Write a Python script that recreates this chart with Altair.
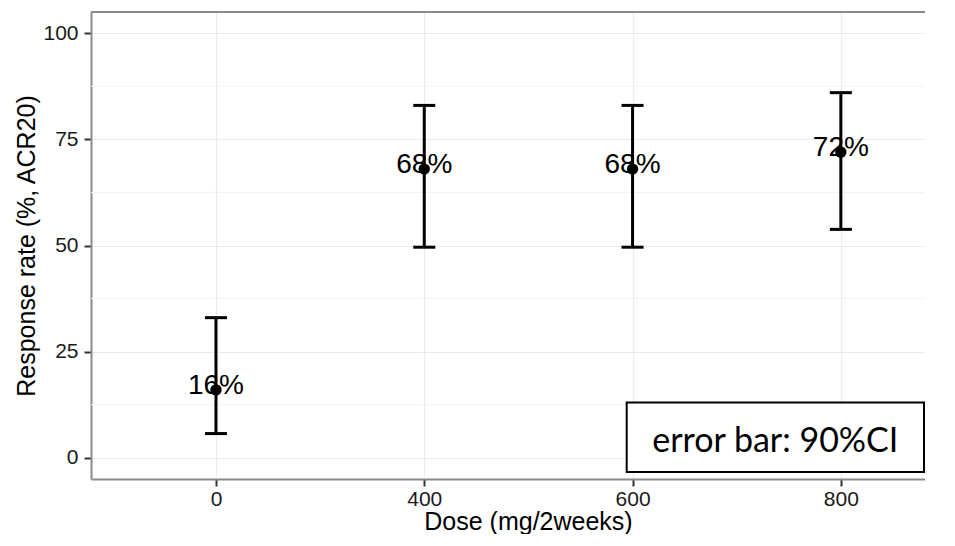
import json
import altair as alt
import pandas as pd

# ---- data ----
doses = ["0", "400", "600", "800"]
rates = [16, 68, 68, 72]
ci_low = [5.7, 49.6, 49.6, 53.8]
ci_high = [33, 83, 83, 86]
y_ticks = [0, 25, 50, 75, 100]
y_minor = [12.5, 37.5, 62.5, 87.5]
note_text = "error bar: 90%CI"
x_title = "Dose (mg/2weeks)"
y_title = "Response rate (%, ACR20)"

df = pd.DataFrame({
    "dose": doses,
    "idx": list(range(len(doses))),
    "rate": rates,
    "lo": ci_low,
    "hi": ci_high,
})
df["label"] = [f"{r}%" for r in rates]
minor_df = pd.DataFrame({"v": y_minor})
one = pd.DataFrame({"note": [note_text]})

W, H = 834, 467
FONT = "Liberation Sans"

xscale = alt.Scale(domain=[-0.6, 3.404], nice=False, zero=False)
yscale = alt.Scale(domain=[-5, 105], nice=False, zero=False)

x_axis = alt.Axis(
    values=list(range(len(doses))),
    labelExpr=f"{json.dumps(doses)}[datum.value]",
    title=x_title,
    titleX=437, titleY=50, titleBaseline="alphabetic", titleAlign="center",
    grid=True, gridColor="#ebebeb", gridWidth=1.2,
    domain=True, domainColor="#8a8a8a", domainWidth=2,
    ticks=True, tickColor="#333333", tickWidth=2, tickSize=7,
    labelPadding=2, labelFont=FONT, labelFontSize=21, labelColor="#1a1a1a",
    titleFont=FONT, titleFontSize=25, titleFontWeight="normal", titleColor="#000000",
)
y_axis = alt.Axis(
    values=y_ticks,
    title=y_title,
    titleX=-57, titleY=H / 2, titleAngle=-90, titleBaseline="alphabetic", titleAlign="center",
    grid=True, gridColor="#ebebeb", gridWidth=1.2,
    domain=True, domainColor="#8a8a8a", domainWidth=2,
    ticks=True, tickColor="#333333", tickWidth=2, tickSize=7,
    labelPadding=6, labelFont=FONT, labelFontSize=21, labelColor="#1a1a1a",
    titleFont=FONT, titleFontSize=25, titleFontWeight="normal", titleColor="#000000",
)

X = alt.X("idx:Q", scale=xscale, axis=x_axis)

minor = alt.Chart(minor_df).mark_rule(color="#f3f3f3", strokeWidth=1).encode(
    y=alt.Y("v:Q", scale=yscale, axis=y_axis)
)

bars = alt.Chart(df).mark_rule(color="black", strokeWidth=3).encode(
    x=X,
    y=alt.Y("lo:Q", scale=yscale, axis=y_axis),
    y2="hi:Q",
)
cap_lo = alt.Chart(df).mark_tick(color="black", orient="horizontal", size=22, thickness=3, opacity=1).encode(
    x=X, y=alt.Y("lo:Q", scale=yscale, axis=y_axis)
)
cap_hi = alt.Chart(df).mark_tick(color="black", orient="horizontal", size=22, thickness=3, opacity=1).encode(
    x=X, y=alt.Y("hi:Q", scale=yscale, axis=y_axis)
)
labels = alt.Chart(df).mark_text(
    font=FONT, fontSize=28, color="black", baseline="alphabetic", align="center", dy=4
).encode(
    x=X, y=alt.Y("rate:Q", scale=yscale, axis=y_axis), text="label:N"
)
points = alt.Chart(df).mark_circle(color="black", size=130, opacity=1).encode(
    x=X, y=alt.Y("rate:Q", scale=yscale, axis=y_axis)
)

top_border = alt.Chart(one).mark_rule(color="#8a8a8a", strokeWidth=2).encode(
    x=alt.value(0), x2=alt.value(W), y=alt.value(0)
)

note_box = alt.Chart(one).mark_rect(fill="white", stroke="black", strokeWidth=2).encode(
    x=alt.value(535.7), x2=alt.value(833), y=alt.value(390.5), y2=alt.value(460)
)
note = alt.Chart(one).mark_text(
    font="Lato", fontSize=34, color="black", baseline="alphabetic", align="center"
).encode(
    text="note:N", x=alt.value(684.3), y=alt.value(439.5)
)

chart = alt.layer(
    minor, bars, cap_lo, cap_hi, labels, points, top_border, note_box, note
).properties(
    width=W, height=H,
    autosize=alt.AutoSizeParams(type="none"),
    padding={"left": 83, "top": 4, "right": 0, "bottom": 55},
).configure_view(strokeWidth=0, stroke=None, fill="white")

chart.save("out.html", embed_options={"renderer": "svg", "actions": False})
